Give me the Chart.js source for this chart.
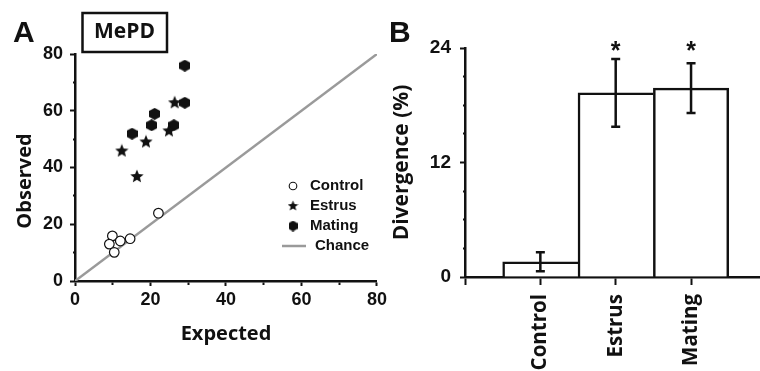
<!DOCTYPE html>
<html lang="en">
<head>
<meta charset="UTF-8">
<title>MePD - observed vs expected, divergence</title>
<script src="https://cdn.jsdelivr.net/npm/chart.js"></script>
<style>
  html, body { margin: 0; padding: 0; background: #fff; }
  body { width: 760px; height: 371px; overflow: hidden; position: relative; }
  #panelA { position: absolute; left: 0; top: 0; }
  #panelB { position: absolute; left: 380px; top: 0; }
</style>
</head>
<body>
<canvas id="panelA" width="390" height="371"></canvas>
<canvas id="panelB" width="420" height="371"></canvas>
<script>
// panel A: expected vs observed
const controlExp = [22.1, 9.9, 9.1, 12.0, 14.6, 10.4];
const controlObs = [23.9, 15.9, 13.0, 14.1, 14.9, 10.1];
const estrusExp = [26.4, 24.9, 18.8, 12.4, 16.4];
const estrusObs = [63.0, 53.1, 49.2, 46.0, 37.0];
const matingExp = [29.1, 29.1, 21.1, 20.3, 26.2, 15.1];
const matingObs = [75.9, 62.8, 58.9, 54.9, 54.9, 51.9];
const chanceLine = [0, 80];

// panel B: divergence (%)
const groups = ['Control', 'Estrus', 'Mating'];
const divergence = [1.6, 19.3, 19.8];
const divergenceErr = [1.0, 3.55, 2.6];
const significant = [false, true, true];

const ink = '#111';
const numFont = '"Liberation Sans", Arial, sans-serif';
const txtFont = '"Open Sans", sans-serif';

function makeStar(size) {
    const c = document.createElement('canvas');
    c.width = size; c.height = size;
    const g = c.getContext('2d');
    const r = size / 2, ri = r * 0.45;
    g.fillStyle = ink;
    g.beginPath();
    for (let i = 0; i < 10; i++) {
        const a = -Math.PI / 2 + i * Math.PI / 5;
        const rr = i % 2 ? ri : r;
        g.lineTo(r + rr * Math.cos(a), r + 0.6 + rr * Math.sin(a));
    }
    g.closePath();
    g.fill();
    return c;
}

// pointy-top hexagon filling a w x h box
function makeHex(w, h) {
    const c = document.createElement('canvas');
    c.width = w; c.height = h;
    const g = c.getContext('2d');
    g.fillStyle = ink;
    g.beginPath();
    g.moveTo(w / 2, 0);
    g.lineTo(w, h * 0.25);
    g.lineTo(w, h * 0.75);
    g.lineTo(w / 2, h);
    g.lineTo(0, h * 0.75);
    g.lineTo(0, h * 0.25);
    g.closePath();
    g.fill();
    return c;
}

const starImg = makeStar(14);
const hexImg = makeHex(11, 12);
const starSmall = makeStar(11);
const hexSmall = makeHex(9, 11);

function pts(xs, ys) {
    return xs.map((x, i) => ({ x: x, y: ys[i] }));
}

// short minor ticks via dash pattern
function leftTickDash(ctx, major) {
    return ctx.tick && ctx.tick.value % major === 0 ? [] : [0, 3, 2.5, 20];
}
function bottomTickDash(ctx, major) {
    return ctx.tick && ctx.tick.value % major === 0 ? [] : [2.5, 20];
}

const panelAExtras = {
    id: 'panelAExtras',
    afterDraw(chart) {
        const ctx = chart.ctx;
        ctx.save();
        ctx.fillStyle = ink;
        ctx.font = 'bold 30px ' + numFont;
        ctx.textBaseline = 'alphabetic';
        ctx.textAlign = 'left';
        ctx.fillText('A', 13, 42);

        // y axis title sits a little below the axis middle
        ctx.save();
        ctx.translate(25, 181);
        ctx.rotate(-Math.PI / 2);
        ctx.font = 'bold 20px ' + txtFont;
        ctx.textAlign = 'center';
        ctx.textBaseline = 'middle';
        ctx.fillText('Observed', 0, 0);
        ctx.restore();

        ctx.lineWidth = 2.5;
        ctx.strokeStyle = ink;
        ctx.strokeRect(82.5, 13, 84.5, 39);
        ctx.font = 'bold 21px ' + txtFont;
        ctx.textAlign = 'center';
        ctx.textBaseline = 'middle';
        ctx.fillText('MePD', 124.5, 32.5);

        // legend
        const sx = 293, tx = 310;
        const rows = [186, 206, 226, 246];
        ctx.lineWidth = 1.1;
        ctx.fillStyle = '#fff';
        ctx.beginPath();
        ctx.arc(sx, rows[0], 3.8, 0, Math.PI * 2);
        ctx.fill();
        ctx.stroke();
        ctx.drawImage(starSmall, sx - 5.5, rows[1] - 6);
        ctx.drawImage(hexSmall, sx - 4.5, rows[2] - 5.5);
        ctx.strokeStyle = '#9a9a9a';
        ctx.lineWidth = 2.5;
        ctx.beginPath();
        ctx.moveTo(282, rows[3]);
        ctx.lineTo(306, rows[3]);
        ctx.stroke();

        ctx.fillStyle = ink;
        ctx.font = 'bold 15px ' + numFont;
        ctx.textAlign = 'left';
        ctx.textBaseline = 'middle';
        ctx.fillText('Control', tx, rows[0]);
        ctx.fillText('Estrus', tx, rows[1]);
        ctx.fillText('Mating', tx, rows[2]);
        ctx.fillText('Chance', tx + 5, rows[3]);
        ctx.restore();
    }
};

new Chart(document.getElementById('panelA'), {
    type: 'scatter',
    data: {
        datasets: [
            { label: 'Control', data: pts(controlExp, controlObs), pointStyle: 'circle', pointRadius: 4.8,
              backgroundColor: '#fff', borderColor: ink, borderWidth: 1.2 },
            { label: 'Estrus', data: pts(estrusExp, estrusObs), pointStyle: starImg },
            { label: 'Mating', data: pts(matingExp, matingObs), pointStyle: hexImg },
            { label: 'Chance', type: 'line', data: pts(chanceLine, chanceLine), borderColor: '#9a9a9a',
              borderWidth: 2.5, pointRadius: 0, showLine: true }
        ]
    },
    options: {
        responsive: false,
        animation: false,
        layout: { padding: { left: 0, top: 54, right: 13, bottom: 0 } },
        plugins: { legend: { display: false }, tooltip: { enabled: false } },
        scales: {
            x: {
                type: 'linear', min: 0, max: 80,
                afterFit: s => { s.height = 90; },
                border: { color: ink, width: 2.5 },
                grid: { drawOnChartArea: false, tickLength: 5, tickColor: ink, tickWidth: 2,
                        tickBorderDash: c => bottomTickDash(c, 20) },
                ticks: { stepSize: 10, autoSkip: false, padding: 3, color: ink,
                         font: { family: numFont, weight: 'bold', size: 18 },
                         callback: v => v % 20 === 0 ? v : '' },
                title: { display: true, text: 'Expected', color: ink, padding: { top: 0, bottom: 25 },
                         font: { family: txtFont, weight: 'bold', size: 20 } }
            },
            y: {
                type: 'linear', min: 0, max: 80,
                afterFit: s => { s.width = 75; },
                border: { color: ink, width: 2.5 },
                grid: { drawOnChartArea: false, tickLength: 5, tickColor: ink, tickWidth: 2,
                        tickBorderDash: c => leftTickDash(c, 20) },
                ticks: { stepSize: 10, autoSkip: false, padding: 7, color: ink,
                         font: { family: numFont, weight: 'bold', size: 18 },
                         callback: v => v % 20 === 0 ? v : '' }
            }
        }
    },
    plugins: [panelAExtras]
});

const panelBExtras = {
    id: 'panelBExtras',
    afterDatasetsDraw(chart) {
        const ctx = chart.ctx;
        const xs = chart.scales.x, ys = chart.scales.y;
        ctx.save();
        ctx.strokeStyle = ink;
        ctx.lineWidth = 2.5;
        groups.forEach((g, i) => {
            const x = xs.getPixelForValue(i + 1);
            const yt = ys.getPixelForValue(divergence[i] + divergenceErr[i]);
            const yb = ys.getPixelForValue(divergence[i] - divergenceErr[i]);
            ctx.beginPath();
            ctx.moveTo(x, yt); ctx.lineTo(x, yb);
            ctx.moveTo(x - 4.5, yt); ctx.lineTo(x + 4.5, yt);
            ctx.moveTo(x - 4.5, yb); ctx.lineTo(x + 4.5, yb);
            ctx.stroke();
            if (significant[i]) {
                ctx.fillStyle = ink;
                ctx.font = 'bold 25px ' + numFont;
                ctx.textAlign = 'center';
                ctx.textBaseline = 'alphabetic';
                ctx.fillText('*', x, ys.getPixelForValue(24) + 11);
            }
        });
        ctx.fillStyle = ink;
        ctx.font = 'bold 30px ' + numFont;
        ctx.textAlign = 'left';
        ctx.fillText('B', 9, 42);
        ctx.restore();
    }
};

new Chart(document.getElementById('panelB'), {
    type: 'bar',
    data: {
        labels: [''].concat(groups, ['']),
        datasets: [{
            data: [null].concat(divergence, [null]),
            backgroundColor: '#fff',
            borderColor: ink,
            borderWidth: c => ({ left: 2.5, top: 2.5, bottom: 0, right: c.dataIndex === groups.length ? 2.5 : 0 }),
            barPercentage: 1,
            categoryPercentage: 1
        }]
    },
    options: {
        responsive: false,
        animation: false,
        layout: { padding: { left: 0, top: 48, right: 31, bottom: 0 } },
        plugins: { legend: { display: false }, tooltip: { enabled: false } },
        scales: {
            x: {
                offset: false,
                afterFit: s => { s.height = 94; },
                border: { color: ink, width: 2.5 },
                grid: { offset: false, drawOnChartArea: false, tickLength: 8, tickColor: ink, tickWidth: 2 },
                ticks: { autoSkip: false, maxRotation: 90, minRotation: 90, padding: 9, color: ink,
                         font: { family: txtFont, weight: 'bold', size: 20.5 } }
            },
            y: {
                min: 0, max: 24,
                afterFit: s => { s.width = 85; },
                border: { color: ink, width: 2.5 },
                grid: { drawOnChartArea: false, tickLength: 5, tickColor: ink, tickWidth: 2,
                        tickBorderDash: c => leftTickDash(c, 12) },
                ticks: { stepSize: 3, autoSkip: false, padding: 9, color: ink,
                         font: { family: numFont, weight: 'bold', size: 19 },
                         callback: v => v % 12 === 0 ? v : '' },
                title: { display: true, text: 'Divergence (%)', color: ink, padding: { top: 9, bottom: 0 },
                         font: { family: txtFont, weight: 'bold', size: 21 } }
            }
        }
    },
    plugins: [panelBExtras]
});
</script>
</body>
</html>
